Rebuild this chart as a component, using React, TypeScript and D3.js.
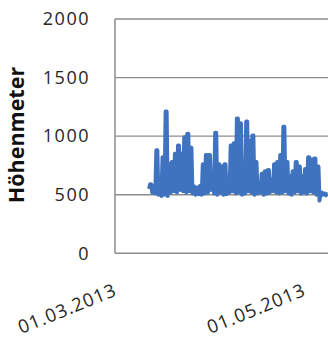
import React from "react";
import * as d3 from "d3";

// days after 01.03.2013 of the first sample
const firstDay = 11;
// daily maximum altitude (m), day 11 .. day 68
const dailyHigh = [
  590, 570, 880, 610, 820, 1210, 760, 780, 850, 920,
  850, 990, 1020, 900, 570, 560, 575, 760, 840, 840,
  570, 1030, 760, 740, 760, 560, 920, 940, 1150, 1110,
  740, 1125, 960, 1005, 780, 600, 680, 700, 710, 630,
  760, 780, 840, 1080, 780, 660, 700, 780, 740, 660,
  720, 820, 800, 810, 740, 520, 510, 505,
];
// daily minimum altitude (m), day 11 .. day 68
const dailyLow = [
  550, 520, 510, 500, 490, 500, 490, 520, 530, 520,
  540, 530, 520, 530, 510, 500, 505, 500, 510, 520,
  540, 510, 500, 520, 500, 505, 520, 530, 510, 520,
  500, 510, 530, 520, 500, 510, 520, 500, 510, 520,
  530, 520, 510, 520, 530, 510, 500, 520, 530, 510,
  520, 510, 530, 520, 500, 450, 500, 495,
];
const yTicks = [0, 500, 1000, 1500, 2000];
const xTickLabels = ["01.03.2013", "01.05.2013"];
const xTickDates = [new Date(2013, 2, 1), new Date(2013, 4, 1)];
const yTitle = "Höhenmeter";

const W = 328;
const H = 340;
const left = 115;
const right = 328;
const top = 19;
const bottom = 253.3;

export default function App() {
  const x = d3
    .scaleTime()
    .domain([new Date(2013, 2, 1), new Date(2013, 4, 1)])
    .range([left, 304]);
  const y = d3.scaleLinear().domain([0, 2000]).range([bottom, top]);

  // each day: night minimum, then the day's maximum held over the daytime
  const pts: { t: Date; v: number }[] = [];
  dailyHigh.forEach((h, i) => {
    const day = firstDay + i;
    pts.push({ t: new Date(2013, 2, 1 + day, 0), v: dailyLow[i] });
    pts.push({ t: new Date(2013, 2, 1 + day, 8), v: h });
    pts.push({ t: new Date(2013, 2, 1 + day, 16), v: h });
  });

  const line = d3
    .line<{ t: Date; v: number }>()
    .x((d) => x(d.t))
    .y((d) => y(d.v));

  const font = "'Open Sans', sans-serif";

  return (
    <svg
      width={W}
      height={H}
      style={{ position: "absolute", left: 0, top: 0, background: "#fff" }}
    >
      <defs>
        <clipPath id="plot">
          <rect x={left} y={0} width={right - left} height={bottom + 5} />
        </clipPath>
      </defs>
      {yTicks.map((t) =>
        t === 0 ? null : (
          <line
            key={t}
            x1={left}
            x2={right}
            y1={y(t)}
            y2={y(t)}
            stroke="#8c8c8c"
            strokeWidth={1.3}
          />
        )
      )}
      <line x1={left} x2={left} y1={top} y2={bottom} stroke="#8c8c8c" strokeWidth={1.5} />
      <line x1={left} x2={right} y1={bottom} y2={bottom} stroke="#8c8c8c" strokeWidth={1.5} />
      <path
        d={line(pts) || ""}
        fill="none"
        stroke="#3f73c0"
        strokeWidth={4}
        strokeLinejoin="round"
        clipPath="url(#plot)"
      />
      {yTicks.map((t) => (
        <text
          key={t}
          x={90}
          y={y(t)}
          dy="0.35em"
          textAnchor="end"
          fontFamily={font}
          fontSize={18}
          letterSpacing={1.5}
          fill="#262626"
        >
          {t}
        </text>
      ))}
      {xTickDates.map((d, i) => (
        <text
          key={i}
          transform={`translate(${x(d) + 3},295) rotate(-22)`}
          textAnchor="end"
          fontFamily={font}
          fontSize={18.5}
          letterSpacing={1}
          fill="#262626"
        >
          {xTickLabels[i]}
        </text>
      ))}
      <text
        transform={`translate(24,135) rotate(-90)`}
        textAnchor="middle"
        fontFamily={font}
        fontSize={21.5}
        fontWeight="bold"
        fill="#111"
      >
        {yTitle}
      </text>
    </svg>
  );
}
